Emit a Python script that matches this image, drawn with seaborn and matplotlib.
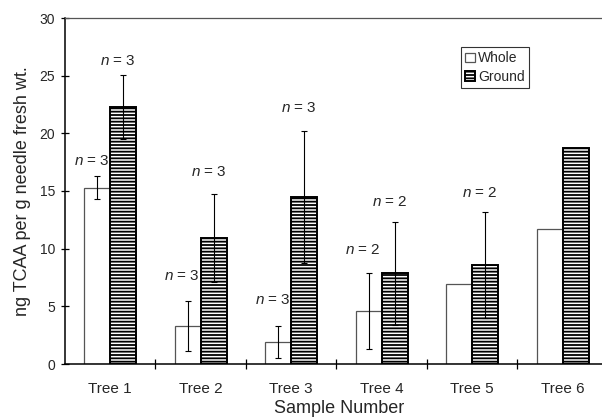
import numpy as np
import pandas as pd
import seaborn as sns
import matplotlib.pyplot as plt

trees = ["Tree 1", "Tree 2", "Tree 3", "Tree 4", "Tree 5", "Tree 6"]
whole = [15.3, 3.3, 1.9, 4.6, 6.9, 11.7]
ground = [22.3, 10.9, 14.5, 7.85, 8.55, 18.75]
whole_err = [1.0, 2.2, 1.4, 3.3, np.nan, np.nan]
ground_err = [2.8, 3.8, 5.7, 4.5, 4.6, np.nan]
# sample counts written above the bars, and the height of each label
whole_n = ["3", "3", "3", "2", "", ""]
ground_n = ["3", "3", "3", "2", "2", ""]
whole_n_y = [17.6, 7.6, 5.55, 9.9, np.nan, np.nan]
ground_n_y = [26.3, 16.65, 22.2, 14.05, 14.8, np.nan]

sns.set_theme(style="white")
plt.rcParams["font.family"] = ["Liberation Sans", "DejaVu Sans"]
plt.rcParams["mathtext.fontset"] = "custom"
plt.rcParams["mathtext.it"] = "Liberation Sans:italic"
plt.rcParams["mathtext.rm"] = "Liberation Sans"
plt.rcParams["hatch.linewidth"] = 1.3
plt.rcParams["hatch.color"] = "black"

df = pd.DataFrame({
    "tree": trees * 2,
    "form": ["Whole"] * 6 + ["Ground"] * 6,
    "value": whole + ground,
})

fig = plt.figure(figsize=(6.02, 4.18), dpi=100)
ax = fig.add_axes([65 / 602, 54 / 418, 537 / 602, 346 / 418])

sns.barplot(data=df, x="tree", y="value", hue="form", order=trees,
            hue_order=["Whole", "Ground"], palette=["white", "white"],
            width=0.575, errorbar=None, legend=False, ax=ax)

whole_bars, ground_bars = ax.containers[0], ax.containers[1]
for b in whole_bars:
    b.set_edgecolor("#555555")
    b.set_linewidth(0.9)
for b in ground_bars:
    b.set_edgecolor("black")
    b.set_linewidth(1.4)
    b.set_hatch("-----")

for bars, vals, errs, ns, ny in [(whole_bars, whole, whole_err, whole_n, whole_n_y),
                                 (ground_bars, ground, ground_err, ground_n, ground_n_y)]:
    xs = [b.get_x() + b.get_width() / 2 for b in bars]
    ax.errorbar(xs, vals, yerr=errs, fmt="none", ecolor="black",
                elinewidth=0.8, capsize=2, capthick=0.8)
    for x, n, y in zip(xs, ns, ny):
        if n:
            ax.text(x - 0.06, y, r"$\it{n}$ = " + n, ha="center", va="center",
                    fontsize=11)

ax.set_xlim(-0.5, 5.434)
ax.set_ylim(0, 30)
ax.set_yticks(range(0, 31, 5))
ax.set_xticks(np.arange(0.5, 5, 1), minor=True)
ax.tick_params(axis="y", which="major", direction="inout", length=6, width=0.9,
               left=True, labelsize=10, pad=4, color="black")
ax.tick_params(axis="x", which="major", length=0, labelsize=11, pad=13)
ax.tick_params(axis="x", which="minor", direction="inout", length=6.5, width=0.9,
               bottom=True, color="black")

for s in ["left", "bottom"]:
    ax.spines[s].set_color("black")
    ax.spines[s].set_linewidth(1.1)
ax.spines["top"].set_color("#555555")
ax.spines["top"].set_linewidth(0.9)
ax.spines["right"].set_visible(False)

ax.set_xlabel("Sample Number", fontsize=13)
ax.xaxis.set_label_coords(0.511, -0.103)
ax.set_ylabel("ng TCAA per g needle fresh wt.", fontsize=13, labelpad=6)

leg = ax.legend([whole_bars, ground_bars], ["Whole", "Ground"], loc="upper left",
                bbox_to_anchor=(0.737, 0.916), borderaxespad=0, fontsize=10,
                frameon=True, fancybox=False, handlelength=0.7, handleheight=0.7,
                handletextpad=0.25, borderpad=0.3, labelspacing=0.35)
leg.get_frame().set_edgecolor("black")
leg.get_frame().set_linewidth(0.8)

fig.savefig("out.png", dpi=100)
